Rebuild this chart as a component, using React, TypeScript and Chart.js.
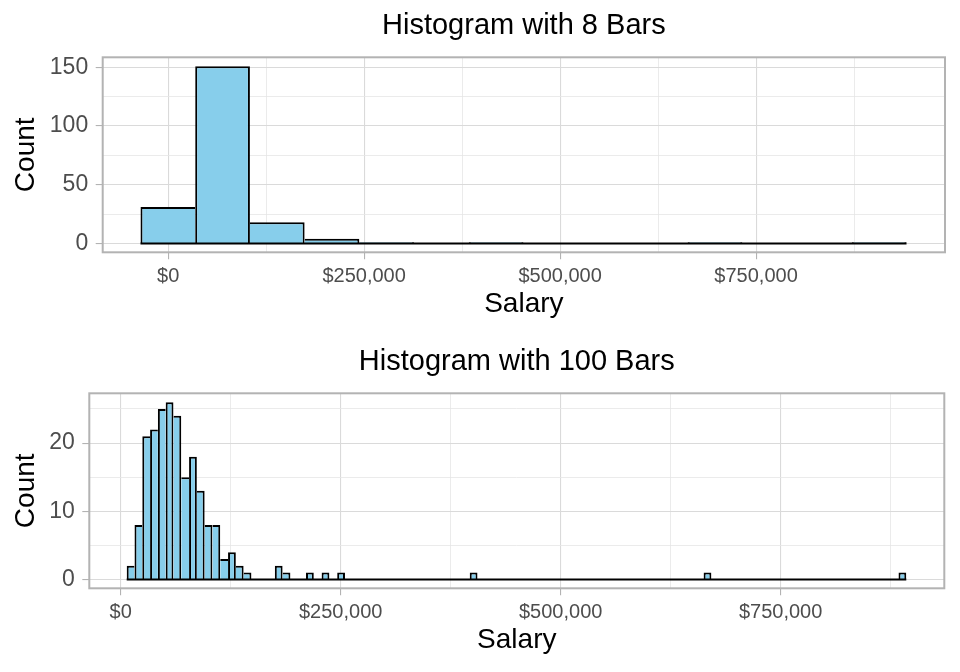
import React, { useEffect, useRef } from 'react';
import { Chart, registerables } from 'chart.js';

Chart.register(...registerables);

const FONT = "'Liberation Sans', Arial, Helvetica, sans-serif";

const topTitle = 'Histogram with 8 Bars';
const bottomTitle = 'Histogram with 100 Bars';
const xAxisTitle = 'Salary';
const yAxisTitle = 'Count';

// top histogram: bin edges start + width, counts per bin
const topBinStart = -35300;
const topBinWidth = 69800;
const topCounts = [31, 151, 18, 4, 1, 0, 1, 0, 0, 0, 1, 0, 0, 1];

// bottom histogram (100 bins)
const bottomBinStart = 6800;
const bottomBinWidth = 8860;
const bottomCounts = [
  2, 8, 21, 22, 25, 26, 24, 15, 18, 13,
  8, 8, 3, 4, 2, 1, 0, 0, 0, 2,
  1, 0, 0, 1, 0, 1, 0, 1, 0, 0,
  0, 0, 0, 0, 0, 0, 0, 0, 0, 0,
  0, 0, 0, 0, 1, 0, 0, 0, 0, 0,
  0, 0, 0, 0, 0, 0, 0, 0, 0, 0,
  0, 0, 0, 0, 0, 0, 0, 0, 0, 0,
  0, 0, 0, 0, 1, 0, 0, 0, 0, 0,
  0, 0, 0, 0, 0, 0, 0, 0, 0, 0,
  0, 0, 0, 0, 0, 0, 0, 0, 0, 1,
];

const xMajorTicks = [0, 250000, 500000, 750000];
const xMinorTicks = [125000, 375000, 625000, 875000];
const topYMajorTicks = [0, 50, 100, 150];
const topYMinorTicks = [25, 75, 125];
const bottomYMajorTicks = [0, 10, 20];
const bottomYMinorTicks = [5, 15, 25];

const topXRange = [-83500, 991000];
const topYRange = [-7.55, 158.55];
const bottomXRange = [-35700, 936000];
const bottomYRange = [-1.3, 27.3];

const fmtDollar = (v: number) => '$' + v.toLocaleString('en-US');

const panelBorder = {
  id: 'panelBorder',
  afterDatasetsDraw(chart: any) {
    const { ctx, chartArea: a } = chart;
    ctx.save();
    ctx.strokeStyle = '#B3B3B3';
    ctx.lineWidth = 2;
    ctx.strokeRect(a.left, a.top, a.right - a.left, a.bottom - a.top);
    ctx.restore();
  },
};

interface Params {
  title: string;
  counts: number[];
  binStart: number;
  binWidth: number;
  xRange: number[];
  yRange: number[];
  yMajor: number[];
  yMinor: number[];
  yAxisWidth: number;
  rightPad: number;
}

function makeConfig(p: Params): any {
  const BW = 2;
  const inRange = (vals: number[], r: number[]) => vals.filter((v) => v >= r[0] && v <= r[1]).sort((a, b) => a - b);
  const xTicks = inRange([...xMajorTicks, ...xMinorTicks], p.xRange);
  const yTicks = inRange([...p.yMajor, ...p.yMinor], p.yRange);
  const isXMajor = (v: number) => xMajorTicks.includes(v);
  const isYMajor = (v: number) => p.yMajor.includes(v);
  const c = p.counts;
  const barBorder = (ctx: any) => {
    const i = ctx.dataIndex;
    if (i === undefined) return BW;
    const h = c[i];
    const prev = i > 0 ? c[i - 1] : -1;
    const next = i < c.length - 1 ? c[i + 1] : -1;
    return {
      top: BW,
      bottom: 0,
      left: prev >= h ? 0 : BW,
      right: next > h ? 0 : BW,
    };
  };
  return {
    type: 'bar',
    data: {
      datasets: [
        {
          type: 'line',
          data: [
            { x: p.binStart, y: 0 },
            { x: p.binStart + c.length * p.binWidth, y: 0 },
          ],
          borderColor: '#000000',
          borderWidth: 2,
          pointRadius: 0,
          order: 0,
        },
        {
          type: 'bar',
          data: c.map((v, i) => ({ x: p.binStart + (i + 0.5) * p.binWidth, y: v })),
          backgroundColor: '#87CEEB',
          borderColor: '#000000',
          borderWidth: barBorder,
          borderSkipped: false,
          inflateAmount: 0,
          barPercentage: 1,
          categoryPercentage: 1,
          grouped: false,
          order: 1,
        },
      ],
    },
    options: {
      animation: false,
      responsive: true,
      maintainAspectRatio: false,
      layout: { padding: { left: 0, right: p.rightPad, top: 0, bottom: 0 } },
      plugins: {
        legend: { display: false },
        tooltip: { enabled: false },
        title: {
          display: true,
          text: p.title,
          fullSize: false,
          color: '#000000',
          font: { family: FONT, size: 29, weight: 'normal', lineHeight: 1 },
          padding: { top: 11.5, bottom: 16.8 },
        },
      },
      scales: {
        x: {
          type: 'linear',
          min: p.xRange[0],
          max: p.xRange[1],
          offset: false,
          afterBuildTicks: (s: any) => {
            s.ticks = xTicks.map((v) => ({ value: v }));
          },
          afterFit: (s: any) => {
            s.height = 83.7;
          },
          border: { display: false },
          grid: {
            offset: false,
            color: (ctx: any) => (ctx.tick && isXMajor(ctx.tick.value) ? '#DADADA' : '#E6E6E6'),
            lineWidth: (ctx: any) => (ctx.tick && isXMajor(ctx.tick.value) ? 1.1 : 0.8),
            drawTicks: true,
            tickLength: 7,
            tickColor: (ctx: any) => (ctx.tick && isXMajor(ctx.tick.value) ? '#B3B3B3' : 'rgba(0,0,0,0)'),
            tickWidth: 1.1,
          },
          ticks: {
            autoSkip: false,
            maxRotation: 0,
            minRotation: 0,
            padding: 7,
            color: '#4D4D4D',
            font: { family: FONT, size: 20, lineHeight: 1 },
            callback: (v: number) => (isXMajor(v) ? fmtDollar(v) : ''),
          },
          title: {
            display: true,
            text: xAxisTitle,
            color: '#000000',
            font: { family: FONT, size: 28, lineHeight: 1 },
            padding: { top: 0, bottom: 17.5 },
          },
        },
        y: {
          type: 'linear',
          min: p.yRange[0],
          max: p.yRange[1],
          afterBuildTicks: (s: any) => {
            s.ticks = yTicks.map((v) => ({ value: v }));
          },
          afterFit: (s: any) => {
            s.width = p.yAxisWidth;
          },
          border: { display: false },
          grid: {
            color: (ctx: any) => (ctx.tick && isYMajor(ctx.tick.value) ? '#DADADA' : '#E6E6E6'),
            lineWidth: (ctx: any) => (ctx.tick && isYMajor(ctx.tick.value) ? 1.1 : 0.8),
            drawTicks: true,
            tickLength: 7,
            tickColor: (ctx: any) => (ctx.tick && isYMajor(ctx.tick.value) ? '#B3B3B3' : 'rgba(0,0,0,0)'),
            tickWidth: 1.1,
          },
          ticks: {
            autoSkip: false,
            padding: 7.5,
            color: '#4D4D4D',
            font: { family: FONT, size: 23, lineHeight: 1 },
            callback: (v: number) => (isYMajor(v) ? String(v) : ''),
          },
          title: {
            display: true,
            text: yAxisTitle,
            color: '#000000',
            font: { family: FONT, size: 28, lineHeight: 1 },
            padding: { top: 12, bottom: 0 },
          },
        },
      },
    },
    plugins: [panelBorder],
  };
}

function HistChart({ params }: { params: Params }) {
  const ref = useRef<HTMLCanvasElement | null>(null);
  useEffect(() => {
    document.body.style.margin = '0';
    if (!ref.current) return;
    const chart = new Chart(ref.current, makeConfig(params));
    return () => chart.destroy();
  }, [params]);
  return (
    <div style={{ position: 'relative', width: 960, height: 336 }}>
      <canvas ref={ref} />
    </div>
  );
}

const topParams: Params = {
  title: topTitle,
  counts: topCounts,
  binStart: topBinStart,
  binWidth: topBinWidth,
  xRange: topXRange,
  yRange: topYRange,
  yMajor: topYMajorTicks,
  yMinor: topYMinorTicks,
  yAxisWidth: 102.7,
  rightPad: 15,
};

const bottomParams: Params = {
  title: bottomTitle,
  counts: bottomCounts,
  binStart: bottomBinStart,
  binWidth: bottomBinWidth,
  xRange: bottomXRange,
  yRange: bottomYRange,
  yMajor: bottomYMajorTicks,
  yMinor: bottomYMinorTicks,
  yAxisWidth: 89.3,
  rightPad: 15.7,
};

export default function App() {
  return (
    <div style={{ width: 960, height: 672, background: '#ffffff' }}>
      <HistChart params={topParams} />
      <HistChart params={bottomParams} />
    </div>
  );
}
